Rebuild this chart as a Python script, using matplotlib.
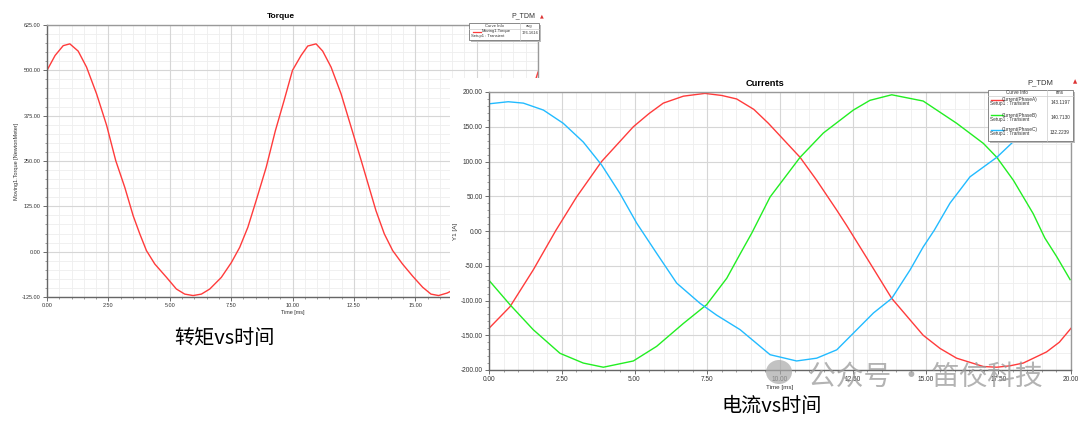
import matplotlib.pyplot as plt
from matplotlib.patches import Rectangle, Ellipse
from matplotlib.ticker import MultipleLocator, FormatStrFormatter

# Torque (Moving1.Torque) vs time
t_torque = [0, 0.33, 0.66, 0.93, 1.27, 1.61, 2.02, 2.43, 2.8, 3.17, 3.51, 3.78, 4.05, 4.39, 4.87,
            5.27, 5.61, 5.95, 6.29, 6.63, 7.1, 7.51, 7.85, 8.18, 8.52, 8.93, 9.3, 9.65, 10.0, 10.35,
            10.62, 10.96, 11.23, 11.57, 11.98, 12.39, 12.8, 13.0, 13.4, 13.74, 14.08, 14.48, 14.9,
            15.3, 15.64, 15.95, 16.3, 16.63, 17.1, 17.51, 17.85, 18.18, 18.52, 18.93, 19.3, 19.65, 20.0]
torque = [500, 541, 568, 573, 553, 509, 435, 348, 251, 177, 99, 49, 3, -34, -71,
          -103, -117, -121, -117, -103, -71, -30, 12, 67, 141, 233, 333, 415, 500, 541,
          567, 573, 553, 509, 435, 343, 251, 205, 113, 49, 3, -34, -68,
          -98, -117, -121, -114, -103, -71, -30, 12, 67, 141, 233, 333, 420, 495]

# Phase currents vs time
t_a = [0, 0.72, 1.52, 2.3, 3.01, 3.87, 4.96, 5.5, 5.99, 6.68, 7.42, 8.0, 8.51, 9.1, 9.6, 10.69,
       11.26, 11.95, 12.29, 13.09, 13.84, 14.92, 15.5, 16.07, 16.99, 17.45, 17.9, 18.36, 19.16, 19.6, 20.0]
i_a = [-140, -109, -56, 1, 49, 100, 150, 169, 184, 194, 198, 195, 190, 175, 155, 106,
       73, 30, 8, -46, -97, -150, -169, -183, -195, -196, -194, -190, -174, -160, -140]
t_b = [0, 0.72, 1.52, 2.44, 3.24, 3.93, 4.96, 5.76, 6.68, 7.48, 8.17, 8.63, 9.03, 9.66, 10.69,
       11.49, 12.52, 13.09, 13.84, 14.92, 16.07, 16.99, 17.45, 18.02, 18.7, 19.1, 19.51, 19.97]
i_b = [-71, -106, -142, -176, -190, -196, -187, -166, -133, -106, -68, -33, -3, 49, 106,
       141, 174, 188, 196, 187, 155, 126, 106, 73, 25, -10, -37, -70]
t_c = [0, 0.66, 1.18, 1.87, 2.55, 3.24, 3.87, 4.5, 5.08, 5.76, 6.45, 7.25, 7.82, 8.63, 9.66,
       10.57, 11.26, 11.95, 12.64, 13.21, 13.84, 14.47, 14.92, 15.3, 15.84, 16.53, 17.45, 18.13, 19.0, 20.0]
i_c = [183, 186, 184, 174, 155, 128, 95, 54, 11, -32, -75, -104, -121, -142, -178,
       -187, -183, -171, -142, -118, -97, -56, -23, 1, 40, 78, 106, 133, 162, 182]

phase_names = ['Current(PhaseA)', 'Current(PhaseB)', 'Current(PhaseC)']
phase_rms = ['143.1197', '140.7130', '132.2239']
torque_avg = '176.1616'

RED = '#ff3b3b'
GREEN = '#22ee22'
BLUE = '#22bbff'
W, H = 1080, 421

fig = plt.figure(figsize=(W / 100, H / 100), dpi=100)
fig.patch.set_facecolor('white')
plt.rcParams['font.family'] = ['Liberation Sans', 'DejaVu Sans']


def box(x0, y0, x1, y1):
    # pixel box (top-left origin) -> figure fraction
    return [x0 / W, 1 - y1 / H, (x1 - x0) / W, (y1 - y0) / H]


def fx(x, y):
    return x / W, 1 - y / H


def style_axes(ax, fs, ymaj, ymin, ygrid):
    ax.set_xlim(0, 20)
    ax.xaxis.set_major_locator(MultipleLocator(2.5))
    ax.xaxis.set_minor_locator(MultipleLocator(0.5))
    ax.yaxis.set_major_locator(MultipleLocator(ymaj))
    ax.yaxis.set_minor_locator(MultipleLocator(ymin))
    ax.xaxis.set_major_formatter(FormatStrFormatter('%.2f'))
    ax.yaxis.set_major_formatter(FormatStrFormatter('%.2f'))
    ax.grid(which='major', color='#d6d6d6', lw=0.8)
    ax.grid(which='minor', axis='x', color='#eeeeee', lw=0.6)
    lo, hi = ax.get_ylim()
    g = lo
    while g <= hi:
        ax.axhline(g, color='#eeeeee', lw=0.6, zorder=0)
        g += ygrid
    ax.set_axisbelow(True)
    ax.tick_params(which='major', direction='out', length=3, width=0.6, colors='#555555',
                   labelsize=fs, labelcolor='#333333', pad=1.5)
    ax.tick_params(which='minor', direction='out', length=1.5, width=0.5, colors='#777777')
    for s in ax.spines.values():
        s.set_color('#999999')
        s.set_linewidth(1.0)
    ax.spines['left'].set_color('#666666')
    ax.spines['bottom'].set_color('#666666')


def legend_table(x0, y0, x1, xcol, head_h, row_h, col_title, n_rows, fs):
    y1 = y0 + head_h + n_rows * row_h
    # shadow + frame
    s = box(x0 + 2, y0 + 2, x1 + 2, y1 + 2)
    fig.patches.append(Rectangle((s[0], s[1]), s[2], s[3], transform=fig.transFigure,
                                 facecolor='#bbbbbb', edgecolor='none', zorder=4))
    b = box(x0, y0, x1, y1)
    fig.patches.append(Rectangle((b[0], b[1]), b[2], b[3], transform=fig.transFigure,
                                 facecolor='white', edgecolor='#777777', lw=0.6, zorder=4))
    fig.lines.append(plt.Line2D([xcol / W, xcol / W], [1 - y0 / H, 1 - y1 / H],
                                transform=fig.transFigure, color='#cccccc', lw=0.5, zorder=5))
    fig.lines.append(plt.Line2D([x0 / W, x1 / W], [1 - (y0 + head_h) / H] * 2,
                                transform=fig.transFigure, color='#cccccc', lw=0.5, zorder=5))
    fig.text(*fx((x0 + xcol) / 2, y0 + head_h / 2), 'Curve Info', fontsize=fs, ha='center',
             va='center', color='#333333', zorder=6)
    fig.text(*fx((xcol + x1) / 2, y0 + head_h / 2), col_title, fontsize=fs, ha='center',
             va='center', color='#333333', zorder=6)


# ---- Torque chart ----
ax1 = fig.add_axes(box(47, 25, 538, 297))
ax1.plot(t_torque, torque, color=RED, lw=1.0)
ax1.set_ylim(-125, 625)
style_axes(ax1, 4.0, 125, 25, 25)
ax1.set_xlabel('Time [ms]', fontsize=4, color='#333333', labelpad=1)
ax1.set_ylabel('Moving1.Torque [NewtonMeter]', fontsize=4, color='#333333', labelpad=2)
fig.text(*fx(281, 16), 'Torque', fontsize=6, fontweight='bold', ha='center', va='center')
fig.text(*fx(523, 16), 'P_TDM', fontsize=5, ha='center', va='center', color='#333333')
fig.text(*fx(542, 16), '▲', fontsize=3.5, ha='center', va='center', color='#dd3333',
         family=['DejaVu Sans'])

# torque legend
legend_table(469, 23, 539, 520, 6, 11, 'avg', 1, 3.0)
fig.lines.append(plt.Line2D([473 / W, 481 / W], [1 - 32 / H] * 2, transform=fig.transFigure,
                            color=RED, lw=0.9, zorder=6))
fig.text(*fx(496, 31), 'Moving1.Torque', fontsize=3.0, ha='center', va='center', color='#333333', zorder=6)
fig.text(*fx(471, 35.5), 'Setup1 : Transient', fontsize=3.0, ha='left', va='center', color='#333333', zorder=6)
fig.text(*fx(530, 33), torque_avg, fontsize=3.0, ha='center', va='center', color='#333333', zorder=6)

# white panel of the second screenshot covering the torque chart
fig.patches.append(Rectangle(fx(450, H), (W - 450) / W, (H - 78) / H, transform=fig.transFigure,
                             facecolor='white', edgecolor='none', zorder=1))

# ---- Currents chart ----
ax2 = fig.add_axes(box(489, 92, 1071, 370))
ax2.set_zorder(2)
ax2.plot(t_a, i_a, color=RED, lw=1.0)
ax2.plot(t_b, i_b, color=GREEN, lw=1.0)
ax2.plot(t_c, i_c, color=BLUE, lw=1.0)
ax2.set_ylim(-200, 200)
style_axes(ax2, 4.7, 50, 10, 25)
ax2.set_xlabel('Time [ms]', fontsize=4.5, color='#333333', labelpad=1)
ax2.set_ylabel('Y1 [A]', fontsize=4.5, color='#333333', labelpad=2)
fig.text(*fx(765, 83), 'Currents', fontsize=6.7, fontweight='bold', ha='center', va='center', zorder=3)
fig.text(*fx(1040, 83), 'P_TDM', fontsize=5.5, ha='center', va='center', color='#333333', zorder=3)
fig.text(*fx(1075, 82), '▲', fontsize=4, ha='center', va='center', color='#dd3333',
         family=['DejaVu Sans'], zorder=3)

# currents legend
legend_table(988, 90, 1073, 1047, 6, 15, 'rms', len(phase_names), 3.4)
for k, (name, val, col) in enumerate(zip(phase_names, phase_rms, [RED, GREEN, BLUE])):
    yr = 96 + 15 * k
    fig.lines.append(plt.Line2D([991 / W, 1003 / W], [1 - (yr + 4) / H] * 2, transform=fig.transFigure,
                                color=col, lw=1.0, zorder=6))
    fig.text(*fx(1020, yr + 4), name, fontsize=3.4, ha='center', va='center', color='#333333', zorder=6)
    fig.text(*fx(990, yr + 8), 'Setup1 : Transient', fontsize=3.4, ha='left', va='center',
             color='#333333', zorder=6)
    fig.text(*fx(1060, yr + 6.5), val, fontsize=3.4, ha='center', va='center', color='#333333', zorder=6)

# captions
fig.text(*fx(224, 338), '转矩vs时间', fontsize=14.5, ha='center', va='center',
         family=['Noto Sans CJK SC', 'DejaVu Sans'], zorder=7)
fig.text(*fx(772, 406), '电流vs时间', fontsize=14.5, ha='center', va='center',
         family=['Noto Sans CJK SC', 'DejaVu Sans'], zorder=7)

# watermark with chat-bubble icon
icon = Ellipse(fx(779, 372), 26 / W, 24 / H, transform=fig.transFigure,
               facecolor='#a8a8a8', edgecolor='none', alpha=0.7, zorder=8)
fig.patches.append(icon)
fig.text(*fx(925, 377), '公众号 · 笛佼科技', fontsize=20, ha='center', va='center', color='#9a9a9a',
         alpha=0.75, family=['Noto Sans CJK SC', 'DejaVu Sans'], zorder=8)

fig.savefig('out.png', dpi=100)
